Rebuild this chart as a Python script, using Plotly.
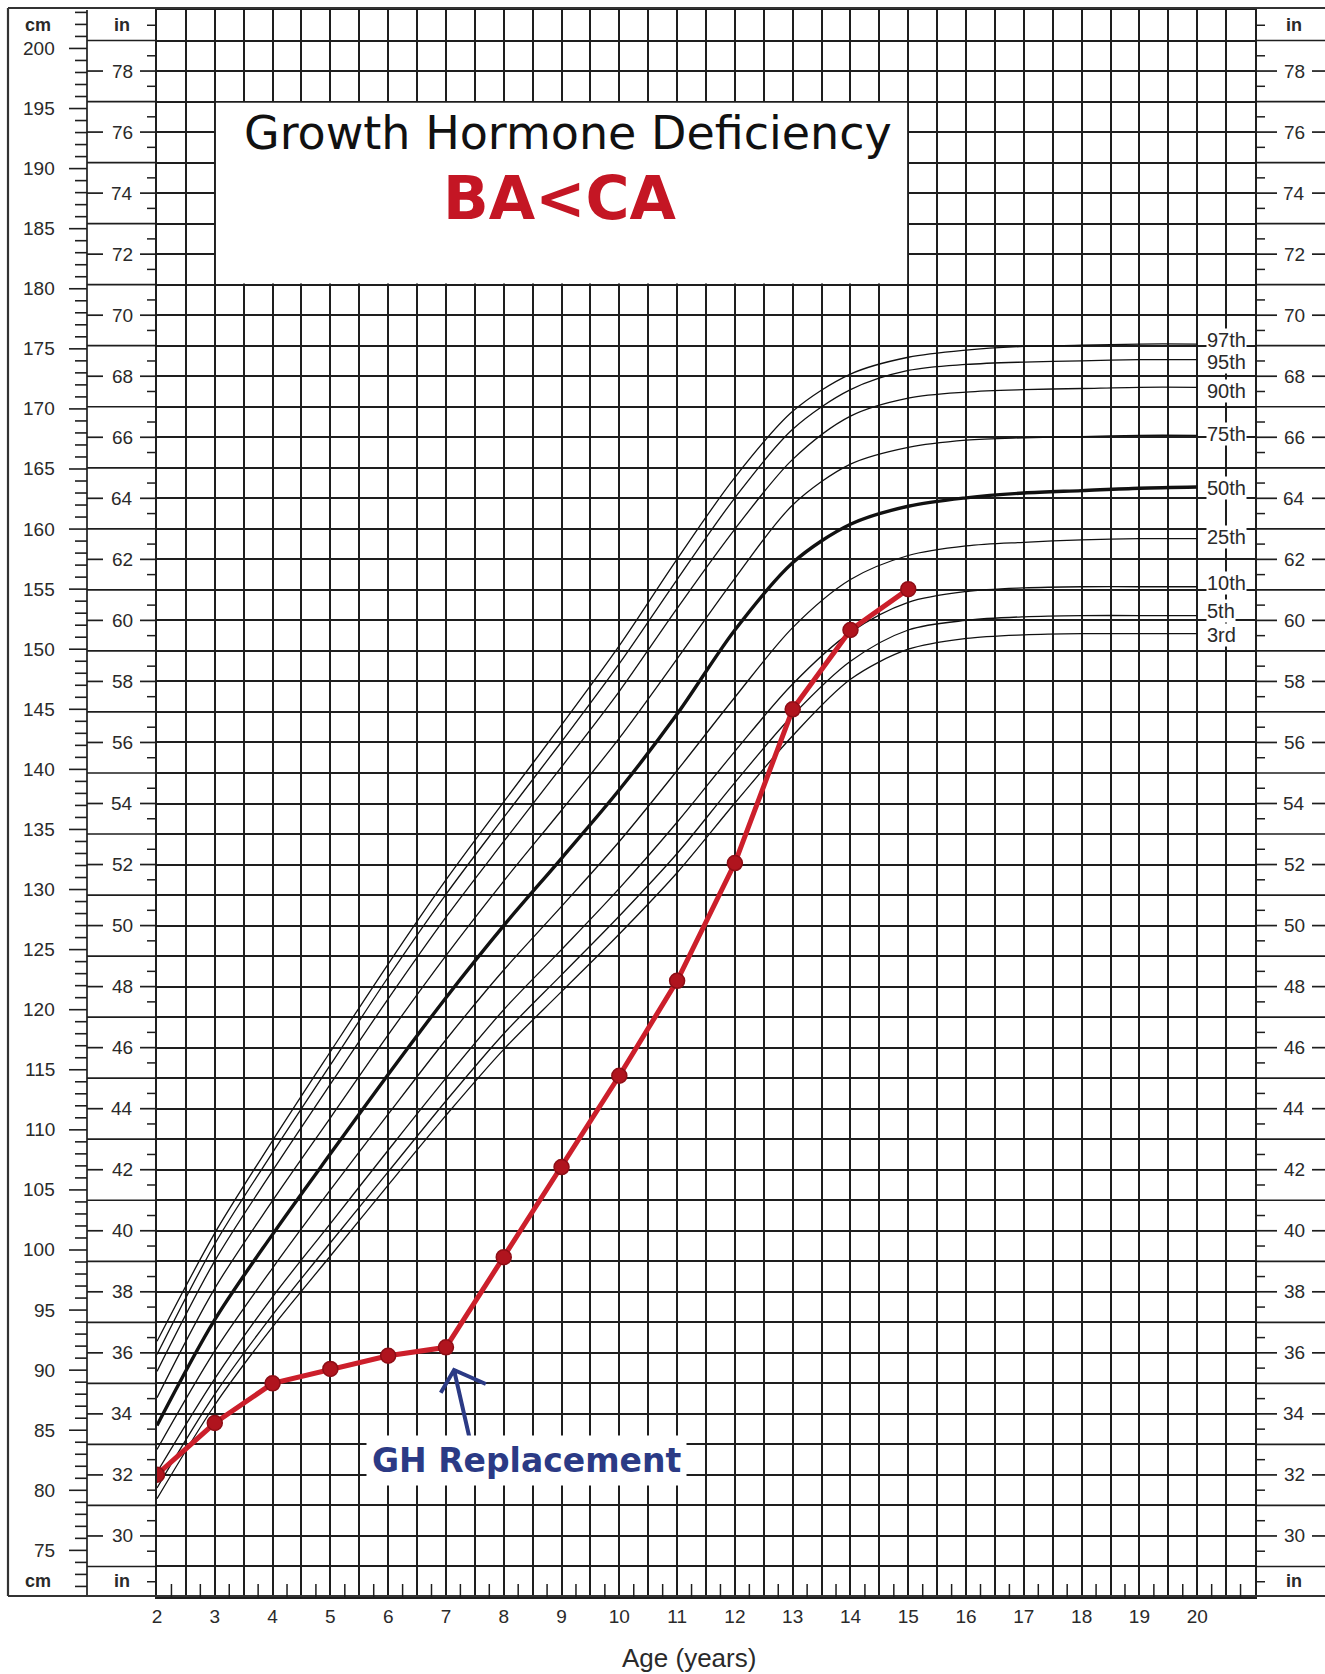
import numpy as np
import plotly.graph_objects as go

# ---------------- data (cm) ----------------
ages = [2, 3, 4, 5, 6, 7, 8, 9, 10, 11, 12, 13, 14, 15, 16, 17, 18, 19, 20]
p97 = [92.4, 101.4, 109.1, 116.5, 123.8, 130.8, 137.3, 143.7, 150.3, 157.5, 164.3, 169.8, 172.9, 174.3, 174.9, 175.2, 175.3, 175.4, 175.4]
p95 = [91.3, 100.5, 108.1, 115.4, 122.7, 129.6, 136.0, 142.3, 148.8, 155.8, 162.6, 168.3, 171.6, 173.2, 173.7, 173.9, 174.0, 174.1, 174.1]
p90 = [89.9, 99.1, 106.6, 113.8, 120.9, 127.7, 134.0, 140.2, 146.5, 153.4, 160.0, 165.8, 169.4, 170.9, 171.4, 171.6, 171.7, 171.8, 171.8]
p75 = [87.7, 96.8, 104.1, 111.0, 117.9, 124.5, 130.7, 136.6, 142.6, 149.2, 155.9, 162.0, 165.4, 166.8, 167.4, 167.6, 167.7, 167.8, 167.8]
p50 = [85.4, 94.2, 101.3, 108.0, 114.6, 121.0, 127.0, 132.6, 138.3, 144.6, 151.6, 157.2, 160.4, 161.9, 162.6, 163.0, 163.2, 163.4, 163.5]
p25 = [83.4, 91.6, 98.5, 105.0, 111.3, 117.5, 123.3, 128.6, 134.0, 139.9, 146.0, 151.8, 155.8, 157.8, 158.6, 158.9, 159.1, 159.2, 159.2]
p10 = [81.5, 89.3, 96.1, 102.2, 108.3, 114.3, 120.0, 125.0, 130.1, 135.6, 141.5, 147.1, 151.4, 153.9, 154.8, 155.1, 155.2, 155.2, 155.2]
p5 = [80.2, 88.0, 94.6, 100.6, 106.5, 112.4, 118.0, 122.9, 127.8, 133.0, 138.9, 144.5, 149.0, 151.6, 152.4, 152.7, 152.8, 152.8, 152.8]
p3 = [79.3, 87.1, 93.6, 99.5, 105.4, 111.2, 116.7, 121.5, 126.3, 131.4, 137.2, 142.8, 147.5, 150.0, 150.9, 151.2, 151.3, 151.3, 151.3]
pct_names = ["97th", "95th", "90th", "75th", "50th", "25th", "10th", "5th", "3rd"]
pct_series = [p97, p95, p90, p75, p50, p25, p10, p5, p3]

patient_age = [2, 3, 4, 5, 6, 7, 8, 9, 10, 11, 12, 13, 14, 15]
patient_cm = [81.3, 85.6, 88.9, 90.1, 91.2, 91.9, 99.4, 106.9, 114.5, 122.4, 132.2, 145.0, 151.6, 155.0]

age_tick_labels = [str(a) for a in range(2, 21)]
cm_labels = list(range(75, 205, 5))
in_labels = list(range(30, 80, 2))

title_text = "Growth Hormone Deficiency"
subtitle_text = "BA<CA"
note_text = "GH Replacement"
xlabel_text = "Age (years)"

# ---------------- styling / geometry ----------------
IN = 2.54
W, H = 1325, 1674
L, R, T, B = 157, 70, 10, 77
PW = W - L - R
PH = H - T - B
GRID = "#1e1e1e"
GW = 1.7
TXT = "#2a2a2a"
RULER_FONT = "Liberation Sans, Arial, sans-serif"
RED = "#cc1f2b"
RED_DARK = "#b0141e"
NAVY = "#2b3a85"


def to_in(v):
    return [x / IN for x in v]


def px(xpix):
    return (xpix - L) / PW


def py(ypix):
    return (H - B - ypix) / PH


shapes = []
annotations = []


def seg(x0p, x1p, yv, width=GW, yref="y"):
    shapes.append(dict(type="line", xref="paper", yref=yref, x0=x0p, x1=x1p,
                       y0=yv, y1=yv, line=dict(color=GRID, width=width)))


# outer frame
shapes.append(dict(type="line", xref="paper", yref="paper", x0=px(8), x1=px(8), y0=py(1596), y1=py(8),
                   line=dict(color="#333", width=2.2)))
shapes.append(dict(type="line", xref="paper", yref="paper", x0=px(87), x1=px(87), y0=0, y1=1,
                   line=dict(color=GRID, width=GW)))
for yy in (py(8), py(1596)):
    shapes.append(dict(type="line", xref="paper", yref="paper", x0=px(8), x1=px(1330), y0=yy, y1=yy,
                       line=dict(color="#333", width=2.2)))

# inch rulers (left and right)
for inch in range(29, 80):
    if inch % 2 == 1:
        seg(px(87), 0, inch)
        seg(1, px(1330), inch)
    else:
        seg(px(87), px(103), inch)
        seg(px(140), 0, inch)
        seg(1, px(1277), inch)
        seg(px(1312), px(1330), inch)
for h in np.arange(28.5, 80, 1.0):
    seg(px(147), 0, h, width=1.5)
    seg(1, px(1265), h, width=1.5)

# cm ruler ticks
for c in range(72, 204):
    major = c % 5 == 0
    seg(px(69 if major else 75), px(87), c / IN, width=1.6)

# quarter-year ticks along bottom row
for q in np.arange(2.25, 21, 0.5):
    shapes.append(dict(type="line", xref="x", yref="paper", x0=q, x1=q, y0=0, y1=13 / PH,
                       line=dict(color=GRID, width=1.5)))

# title box (white)
shapes.append(dict(type="rect", xref="x", yref="y", x0=3.02, x1=14.98, y0=71.04, y1=76.96,
                   fillcolor="white", line=dict(width=0), layer="above"))

# arrow for GH replacement
shapes.append(dict(type="path", xref="x", yref="y",
                   path="M 7.42,33.11 L 7.14,35.44 M 6.91,34.69 L 7.14,35.44 L 7.69,34.98",
                   line=dict(color=NAVY, width=4), layer="above"))

# ruler labels
for c in cm_labels:
    annotations.append(dict(xref="paper", yref="y", x=px(57), y=c / IN, text=str(c), showarrow=False,
                            xanchor="right", yanchor="middle",
                            font=dict(family=RULER_FONT, size=19, color=TXT)))
for i in in_labels:
    for xc in (122, 1294):
        annotations.append(dict(xref="paper", yref="y", x=px(xc), y=i, text=str(i), showarrow=False,
                                xanchor="center", yanchor="middle",
                                font=dict(family=RULER_FONT, size=19, color=TXT)))
for ypix in (25, 1581):
    for xc, t in ((38, "cm"), (122, "in"), (1294, "in")):
        annotations.append(dict(xref="paper", yref="paper", x=px(xc), y=py(ypix), text="<b>%s</b>" % t,
                                showarrow=False, xanchor="center", yanchor="middle",
                                font=dict(family=RULER_FONT, size=18, color=TXT)))

# percentile labels (left-aligned just right of age 20)
nudges = [0.12, -0.07, -0.13, 0.05, -0.03, 0.07, 0.13, 0.16, -0.03]
for name, ser, nd in zip(pct_names, pct_series, nudges):
    annotations.append(dict(xref="paper", yref="y", x=px(1206), y=ser[-1] / IN + nd, text=name, showarrow=False,
                            xanchor="left", yanchor="middle", bgcolor="white", borderpad=0,
                            font=dict(family=RULER_FONT, size=20, color=TXT)))

# titles
annotations.append(dict(xref="x", yref="y", x=9.11, y=75.96, text=title_text, showarrow=False,
                        xanchor="center", yanchor="middle",
                        font=dict(family="DejaVu Sans", size=46, color="#111")))
annotations.append(dict(xref="x", yref="y", x=8.97, y=73.83, text="<b>%s</b>" % subtitle_text.replace("<", "&lt;"),
                        showarrow=False, xanchor="center", yanchor="middle",
                        font=dict(family="DejaVu Sans", size=60, color="#c41624")))
annotations.append(dict(xref="x", yref="y", x=8.39, y=32.46, text="<b>%s</b>" % note_text, showarrow=False,
                        xanchor="center", yanchor="middle", bgcolor="white", borderpad=5,
                        font=dict(family="DejaVu Sans", size=33, color=NAVY)))
annotations.append(dict(xref="paper", yref="paper", x=px(689), y=py(1658), text=xlabel_text, showarrow=False,
                        xanchor="center", yanchor="middle",
                        font=dict(family=RULER_FONT, size=26, color=TXT)))

# ---------------- figure ----------------
fig = go.Figure()
for name, ser in zip(pct_names, pct_series):
    fig.add_trace(go.Scatter(x=ages, y=to_in(ser), mode="lines", name=name, hoverinfo="skip",
                             line=dict(color="#111", width=3.4 if name == "50th" else 1.3,
                                       shape="spline", smoothing=0.9)))
fig.add_trace(go.Scatter(x=patient_age, y=to_in(patient_cm), mode="lines+markers", name="patient",
                         line=dict(color=RED, width=5),
                         marker=dict(size=15, color=RED_DARK, line=dict(color="#8e0e16", width=1.5))))

xt = list(np.arange(2, 21, 0.5))
xtext = [str(int(v)) if float(v).is_integer() else "" for v in xt]

fig.update_layout(
    width=W, height=H,
    margin=dict(l=L, r=R, t=T, b=B, autoexpand=False),
    paper_bgcolor="white", plot_bgcolor="white",
    showlegend=False,
    shapes=shapes, annotations=annotations,
    xaxis=dict(range=[2, 21], tickmode="array", tickvals=xt, ticktext=xtext,
               showgrid=True, gridcolor=GRID, gridwidth=GW, zeroline=False,
               showline=True, mirror=True, linecolor=GRID, linewidth=2,
               ticks="outside", ticklen=1, tickcolor="rgba(0,0,0,0)",
               tickfont=dict(family=RULER_FONT, size=19, color=TXT), automargin=False),
    yaxis=dict(range=[28, 80], tickmode="linear", tick0=28, dtick=1,
               showgrid=True, gridcolor=GRID, gridwidth=GW, zeroline=False,
               showticklabels=False, ticks="",
               showline=True, mirror=True, linecolor=GRID, linewidth=2, automargin=False),
)

fig.write_html("out.html", config={"displayModeBar": False},
               post_script="document.body.style.margin='0';")
